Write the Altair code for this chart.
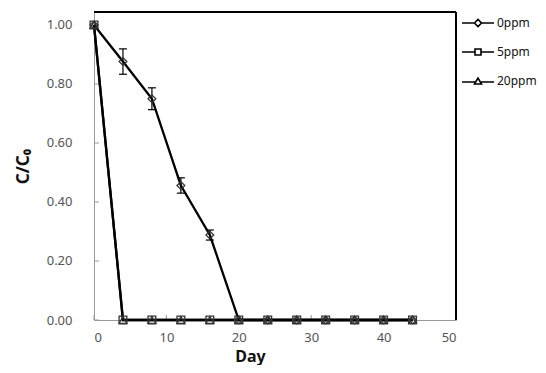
import altair as alt
import pandas as pd

days = [0, 4, 8, 12, 16, 20, 24, 28, 32, 36, 40, 44]
c_0ppm = [1.00, 0.876, 0.750, 0.456, 0.288, 0.0, 0.0, 0.0, 0.0, 0.0, 0.0, 0.0]
err_0ppm = [0.0, 0.043, 0.037, 0.026, 0.017, 0.0, 0.0, 0.0, 0.0, 0.0, 0.0, 0.0]
c_5ppm = [1.00, 0.0, 0.0, 0.0, 0.0, 0.0, 0.0, 0.0, 0.0, 0.0, 0.0, 0.0]
c_20ppm = [1.00, 0.0, 0.0, 0.0, 0.0, 0.0, 0.0, 0.0, 0.0, 0.0, 0.0, 0.0]
series = ["0ppm", "5ppm", "20ppm"]
y_ticks = [0.0, 0.2, 0.4, 0.6, 0.8, 1.0]
x_ticks = [0, 10, 20, 30, 40, 50]

rows = []
for name, vals, errs in [("0ppm", c_0ppm, err_0ppm),
                         ("5ppm", c_5ppm, [0.0] * len(days)),
                         ("20ppm", c_20ppm, [0.0] * len(days))]:
    for d, v, e in zip(days, vals, errs):
        rows.append({"day": d, "c": v, "lo": v - e, "hi": v + e, "series": name})
df = pd.DataFrame(rows)
err_df = df[(df["hi"] - df["lo"]) > 0]

W, H = 362, 308
FONT = "Noto Sans"

xs = alt.Scale(domain=[0, 50], nice=False)
ys = alt.Scale(domain=[0, 1.044], nice=False)

X = alt.X("day:Q", scale=xs,
          axis=alt.Axis(values=x_ticks, title="Day", ticks=False, grid=False,
                        domainColor="#9a9a9a", labelColor="#555555", labelFontSize=13,
                        labelFont=FONT, labelPadding=11, titleFont=FONT, titleFontSize=16,
                        titleFontWeight="bold", titleColor="#111111", titleX=156,
                        titlePadding=4))
Y = alt.Y("c:Q", scale=ys,
          axis=alt.Axis(values=y_ticks, format=".2f", title="C/C₀", ticks=False, grid=False,
                        domainColor="#9a9a9a", labelColor="#555555", labelFontSize=13,
                        labelFont=FONT, labelPadding=22, titleFont=FONT, titleFontSize=17,
                        titleFontWeight="bold", titleColor="#111111", titlePadding=14))

base = alt.Chart(df)

lines = base.mark_line(color="black", strokeWidth=2.3).encode(
    x=X, y=Y, detail="series:N", order="day:Q")

bars = alt.Chart(err_df).mark_rule(color="black", strokeWidth=1.2).encode(
    x="day:Q", y="lo:Q", y2="hi:Q")
cap_lo = alt.Chart(err_df).mark_point(shape="stroke", size=64, color="black",
                                      strokeWidth=1.2, opacity=1).encode(x="day:Q", y="lo:Q")
cap_hi = alt.Chart(err_df).mark_point(shape="stroke", size=64, color="black",
                                      strokeWidth=1.2, opacity=1).encode(x="day:Q", y="hi:Q")

points = base.mark_point(filled=False, color="#333333", strokeWidth=1.3, size=60,
                         opacity=1).encode(
    x="day:Q", y="c:Q",
    shape=alt.Shape("series:N", legend=None,
                    scale=alt.Scale(domain=series,
                                    range=["diamond", "square", "triangle-up"])))

legend_paths = [
    "M-3.2,0L-0.7,0M0.7,0L3.2,0M-0.7,0L0,-0.7L0.7,0L0,0.7Z",
    "M-3.2,0L-0.6,0M0.6,0L3.2,0M-0.6,-0.6L0.6,-0.6L0.6,0.6L-0.6,0.6Z",
    "M-3.2,0.2L-0.6,0.2M0.6,0.2L3.2,0.2M-0.7,0.6L0,-0.6L0.7,0.6Z",
]
legend_layer = base.transform_filter("false").mark_point(
    filled=False, color="black", opacity=1).encode(
    x="day:Q", y="c:Q",
    shape=alt.Shape("series:N", scale=alt.Scale(domain=series, range=legend_paths),
                    legend=alt.Legend(title=None, orient="none", legendX=378, legendY=5,
                                      symbolSize=100, symbolStrokeWidth=1.6,
                                      symbolStrokeColor="black", symbolFillColor="transparent",
                                      labelOffset=13, labelFont=FONT, labelFontSize=12,
                                      labelColor="#111111", rowPadding=15, padding=0,
                                      labelLimit=100)))

top_rule = alt.Chart(df).mark_rule(color="black", strokeWidth=1.5).encode(
    x=alt.value(0), x2=alt.value(W), y=alt.value(0))
right_rule = alt.Chart(df).mark_rule(color="black", strokeWidth=1.5).encode(
    x=alt.value(W), y=alt.value(0), y2=alt.value(H))

ytick_df = pd.DataFrame({"v": y_ticks})
xtick_df = pd.DataFrame({"d": x_ticks})
yticks = alt.Chart(ytick_df).mark_rule(color="#9a9a9a", strokeWidth=1).encode(
    y=alt.Y("v:Q"), x=alt.value(0), x2=alt.value(5))
xticks = alt.Chart(xtick_df).mark_rule(color="#9a9a9a", strokeWidth=1).encode(
    x=alt.X("d:Q"), y=alt.value(H), y2=alt.value(H - 5))

chart = alt.layer(yticks, xticks, top_rule, right_rule, lines, bars, cap_lo, cap_hi,
                  points, legend_layer).resolve_scale(shape="independent").properties(
    width=W, height=H,
    autosize=alt.AutoSizeParams(type="none"),
    padding={"left": 86, "top": 4, "right": 82, "bottom": 45},
).configure_view(stroke=None).configure(background="white")

chart.save("out.html", embed_options={"renderer": "svg", "actions": False})
